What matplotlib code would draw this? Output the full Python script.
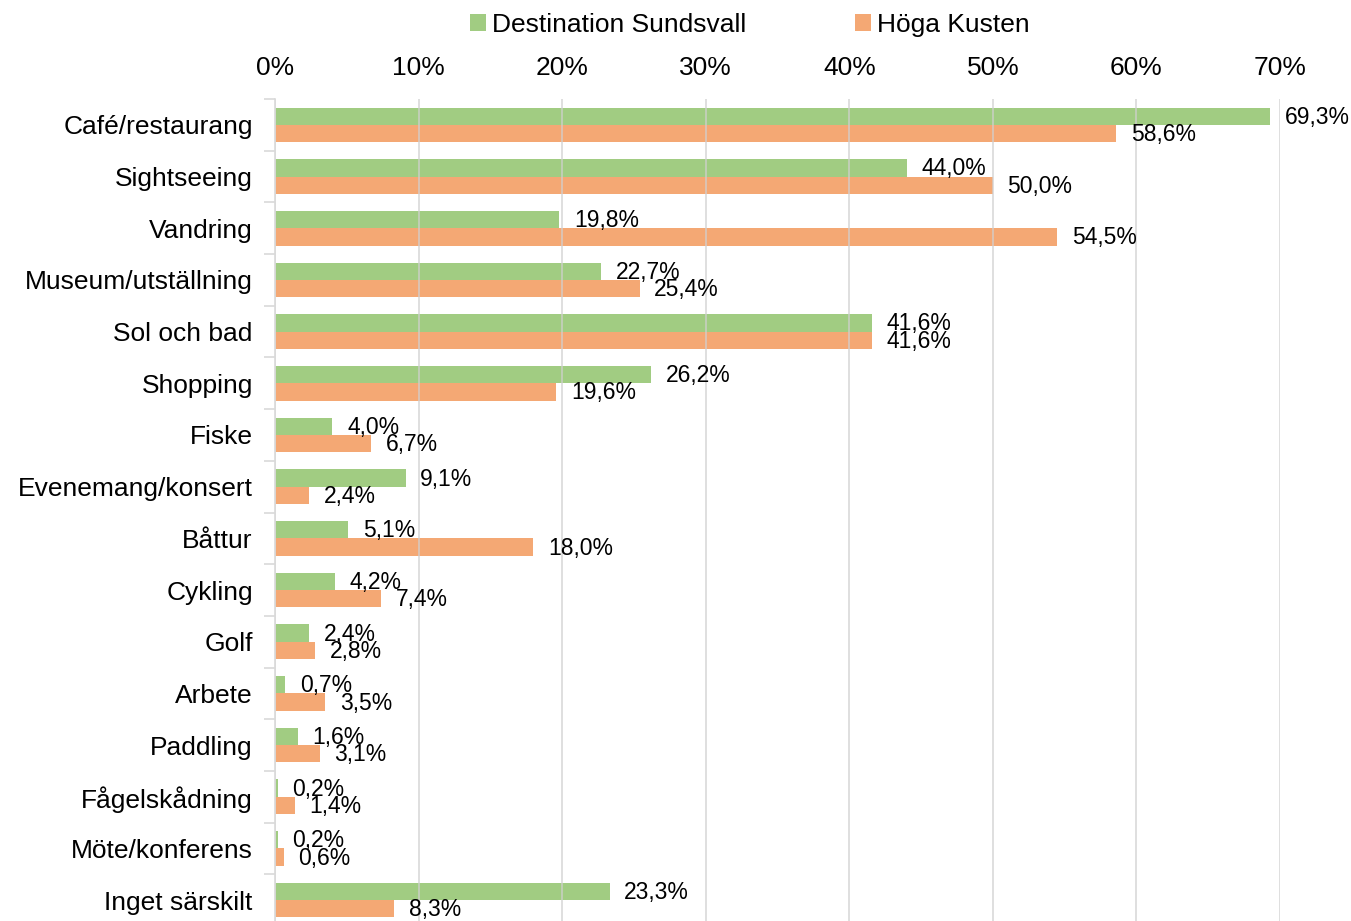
import numpy as np
import matplotlib
matplotlib.use('Agg')
from matplotlib import pyplot as plt

plt.rcParams['font.family'] = ['Liberation Sans', 'DejaVu Sans']

# data
categories = ['Café/restaurang', 'Sightseeing', 'Vandring', 'Museum/utställning',
              'Sol och bad', 'Shopping', 'Fiske', 'Evenemang/konsert', 'Båttur',
              'Cykling', 'Golf', 'Arbete', 'Paddling', 'Fågelskådning',
              'Möte/konferens', 'Inget särskilt']
sundsvall = [69.3, 44.0, 19.8, 22.7, 41.6, 26.2, 4.0, 9.1, 5.1, 4.2, 2.4, 0.7,
             1.6, 0.2, 0.2, 23.3]
hoga_kusten = [58.6, 50.0, 54.5, 25.4, 41.6, 19.6, 6.7, 2.4, 18.0, 7.4, 2.8, 3.5,
               3.1, 1.4, 0.6, 8.3]
series_names = ['Destination Sundsvall', 'Höga Kusten']
x_ticks = [0, 10, 20, 30, 40, 50, 60, 70]

green = '#A1CC82'
orange = '#F4A874'

fig = plt.figure(figsize=(13.51, 9.21), dpi=100)
ax = fig.add_axes([275 / 1351, -5 / 921, 1005 / 1351, 827 / 921])

y = np.arange(len(categories))
h = 0.335
b1 = ax.barh(y - h / 2, sundsvall, height=h, color=green, label=series_names[0], zorder=2)
b2 = ax.barh(y + h / 2, hoga_kusten, height=h, color=orange, label=series_names[1], zorder=2)

def fmt(v):
    return ('%.1f%%' % v).replace('.', ',')

# data labels to the right of each bar
for bars, vals in [(b1, sundsvall), (b2, hoga_kusten)]:
    for rect, v in zip(bars, vals):
        ax.annotate(fmt(v), (v, rect.get_y() + rect.get_height() / 2 + 0.02),
                    xytext=(10.5, 0), textcoords='offset points',
                    va='center', ha='left', fontsize=16.5, zorder=4)

ax.set_xlim(0, 70)
ax.set_ylim(len(categories) - 0.5, -0.5)
ax.set_xticks(x_ticks)
ax.set_xticklabels(['%d%%' % t for t in x_ticks], fontsize=19)
ax.xaxis.tick_top()
ax.tick_params(axis='x', length=0, pad=14)
ax.set_yticks(y)
ax.set_yticklabels(categories, fontsize=19)
ax.tick_params(axis='y', which='major', length=0, pad=16)
ax.set_yticks(np.arange(len(categories) + 1) - 0.5, minor=True)
ax.tick_params(axis='y', which='minor', length=8, color='#D9D9D9', width=1.2)

ax.grid(axis='x', color='#D0D0D0', linewidth=1.2, alpha=0.8, zorder=3)
ax.set_axisbelow(False)
for s in ['top', 'right', 'bottom']:
    ax.spines[s].set_visible(False)
ax.spines['left'].set_color('#D9D9D9')
ax.spines['left'].set_linewidth(1.2)
ax.spines['left'].set_zorder(3)

fig.legend(handles=[b1, b2], loc='upper center', bbox_to_anchor=(0.555, 1.012),
           ncol=2, frameon=False, fontsize=19, handlelength=0.6, handleheight=0.6,
           handletextpad=0.25, columnspacing=4.1)

fig.savefig('out.png', dpi=100)
